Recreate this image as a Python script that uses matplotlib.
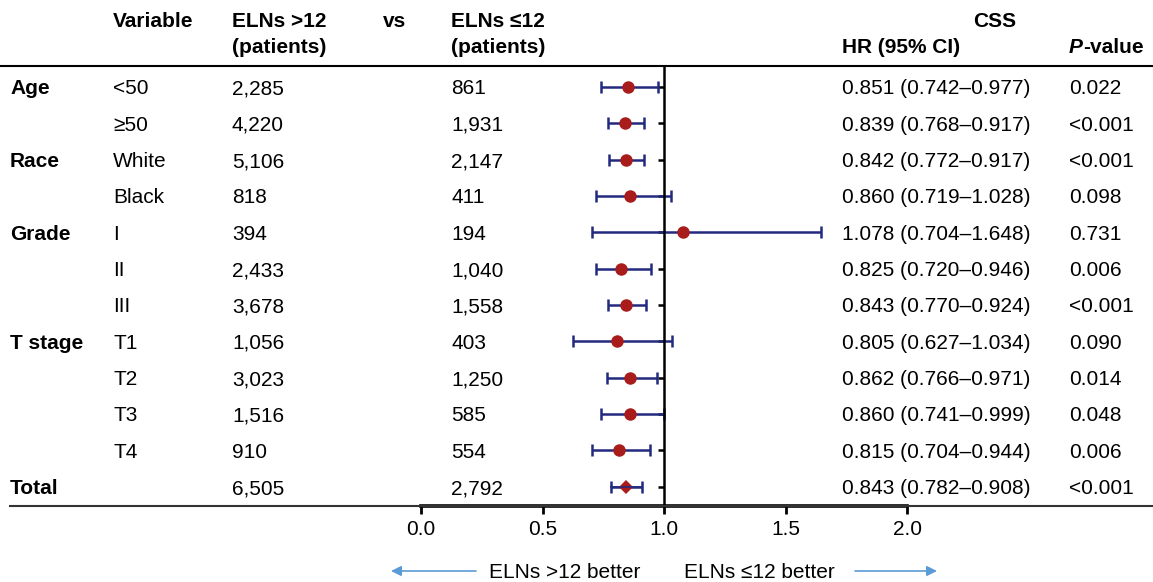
import matplotlib.pyplot as plt
import matplotlib.transforms as mtransforms
from matplotlib.lines import Line2D

plt.rcParams['font.family'] = ['Liberation Sans', 'DejaVu Sans']

# ---- data ----
groups = ['Age', '', 'Race', '', 'Grade', '', '', 'T stage', '', '', '', 'Total']
subgroups = ['<50', '≥50', 'White', 'Black', 'I', 'II', 'III', 'T1', 'T2', 'T3', 'T4', '']
n_high = ['2,285', '4,220', '5,106', '818', '394', '2,433', '3,678',
          '1,056', '3,023', '1,516', '910', '6,505']
n_low = ['861', '1,931', '2,147', '411', '194', '1,040', '1,558',
         '403', '1,250', '585', '554', '2,792']
hr = [0.851, 0.839, 0.842, 0.860, 1.078, 0.825, 0.843, 0.805, 0.862, 0.860, 0.815, 0.843]
ci_low = [0.742, 0.768, 0.772, 0.719, 0.704, 0.720, 0.770, 0.627, 0.766, 0.741, 0.704, 0.782]
ci_high = [0.977, 0.917, 0.917, 1.028, 1.648, 0.946, 0.924, 1.034, 0.971, 0.999, 0.944, 0.908]
p_values = ['0.022', '<0.001', '<0.001', '0.098', '0.731', '0.006', '<0.001',
            '0.090', '0.014', '0.048', '0.006', '<0.001']
xticks = [0.0, 0.5, 1.0, 1.5, 2.0]

W, H = 1153, 582
fig = plt.figure(figsize=(W / 100, H / 100), dpi=100)
# forest panel: x 0..2 between px 421 and 907, rows between top rule (66) and bottom rule (506)
ax = fig.add_axes([421 / W, (H - 506) / H, (907 - 421) / W, (506 - 66) / H])
ax.set_facecolor('none')
ax.set_xlim(0, 2)
ax.set_ylim(11.53, -0.58)

navy = '#23297e'
red = '#a81c1c'
rows = list(range(len(hr)))
for i in rows:
    last = i == len(hr) - 1
    ax.errorbar(hr[i], i, xerr=[[hr[i] - ci_low[i]], [ci_high[i] - hr[i]]],
                fmt='none', ecolor=navy, elinewidth=1.8, capsize=4.5, capthick=1.8, zorder=2)
    if last:
        ax.plot(hr[i], i, marker='D', markersize=7.5, color=red, markeredgewidth=0, zorder=3)
        ax.plot([ci_low[i], ci_high[i]], [i, i], color=navy, lw=1.2, zorder=4)
    else:
        ax.plot(hr[i], i, marker='o', markersize=9, color=red, markeredgewidth=0, zorder=3)

for s in ['top', 'right']:
    ax.spines[s].set_visible(False)
ax.spines['left'].set_position(('data', 1.0))
ax.spines['left'].set_linewidth(1.8)
ax.spines['bottom'].set_linewidth(2.6)
ax.spines['bottom'].set_bounds(0, 2)
ax.set_yticks(rows)
ax.set_yticklabels([])
ax.tick_params(axis='y', direction='out', length=4, width=1.8)
ax.set_xticks(xticks)
ax.set_xticklabels([f'{t:.1f}' for t in xticks])
ax.tick_params(axis='x', direction='out', length=6, width=2, labelsize=15, pad=4)

# rules across the full width
fig.add_artist(Line2D([0, 1], [(H - 66) / H] * 2, color='black', lw=1.5, transform=fig.transFigure))
fig.add_artist(Line2D([10 / W, 1], [(H - 506) / H] * 2, color='#333333', lw=1.5, transform=fig.transFigure))

# text columns: x in figure fraction, y in row units, baseline shifted half a cap height down
fs = 15
down = mtransforms.ScaledTranslation(0, -0.074, fig.dpi_scale_trans)
tr = mtransforms.blended_transform_factory(fig.transFigure, ax.transData) + down
ftr = fig.transFigure + down
va = 'baseline'
for i in rows:
    if groups[i]:
        ax.text(10 / W, i, groups[i], transform=tr, fontsize=fs, fontweight='bold', va=va)
    ax.text(113 / W, i, subgroups[i], transform=tr, fontsize=fs, va=va)
    ax.text(232 / W, i, n_high[i], transform=tr, fontsize=fs, va=va)
    ax.text(451 / W, i, n_low[i], transform=tr, fontsize=fs, va=va)
    ax.text(842 / W, i, f'{hr[i]:.3f} ({ci_low[i]:.3f}–{ci_high[i]:.3f})',
            transform=tr, fontsize=fs, va=va)
    ax.text(1069 / W, i, p_values[i], transform=tr, fontsize=fs, va=va)

# header
h1, h2 = (H - 20) / H, (H - 46) / H
fig.text(113 / W, h1, 'Variable', fontsize=fs, fontweight='bold', va=va, transform=ftr)
fig.text(232 / W, h1, 'ELNs >12', fontsize=fs, fontweight='bold', va=va, transform=ftr)
fig.text(232 / W, h2, '(patients)', fontsize=fs, fontweight='bold', va=va, transform=ftr)
fig.text(383 / W, h1, 'vs', fontsize=fs, fontweight='bold', va=va, transform=ftr)
fig.text(451 / W, h1, 'ELNs ≤12', fontsize=fs, fontweight='bold', va=va, transform=ftr)
fig.text(451 / W, h2, '(patients)', fontsize=fs, fontweight='bold', va=va, transform=ftr)
fig.text(995 / W, h1, 'CSS', fontsize=fs, fontweight='bold', va=va, ha='center', transform=ftr)
fig.text(842 / W, h2, 'HR (95% CI)', fontsize=fs, fontweight='bold', va=va, transform=ftr)
ptxt = fig.text(1069 / W, h2, 'P', fontsize=fs, fontweight='bold', fontstyle='italic', va=va, transform=ftr)
fig.add_artist(plt.Annotation('-value', xy=(1, 0), xycoords=ptxt, fontsize=fs,
                              fontweight='bold', va='bottom', ha='left'))

# direction arrows
ya = (H - 571) / H
blue = '#5b9bd5'
fig.add_artist(plt.Annotation('', xy=(391 / W, ya), xytext=(476 / W, ya), xycoords='figure fraction',
                              arrowprops=dict(arrowstyle='-|>', color=blue, lw=1.2, mutation_scale=15,
                                              shrinkA=0, shrinkB=0)))
fig.add_artist(plt.Annotation('', xy=(937 / W, ya), xytext=(855 / W, ya), xycoords='figure fraction',
                              arrowprops=dict(arrowstyle='-|>', color=blue, lw=1.2, mutation_scale=15,
                                              shrinkA=0, shrinkB=0)))
fig.text(489 / W, ya, 'ELNs >12 better', fontsize=fs, va=va, transform=ftr)
fig.text(684 / W, ya, 'ELNs ≤12 better', fontsize=fs, va=va, transform=ftr)

fig.savefig('out.png', dpi=100)
